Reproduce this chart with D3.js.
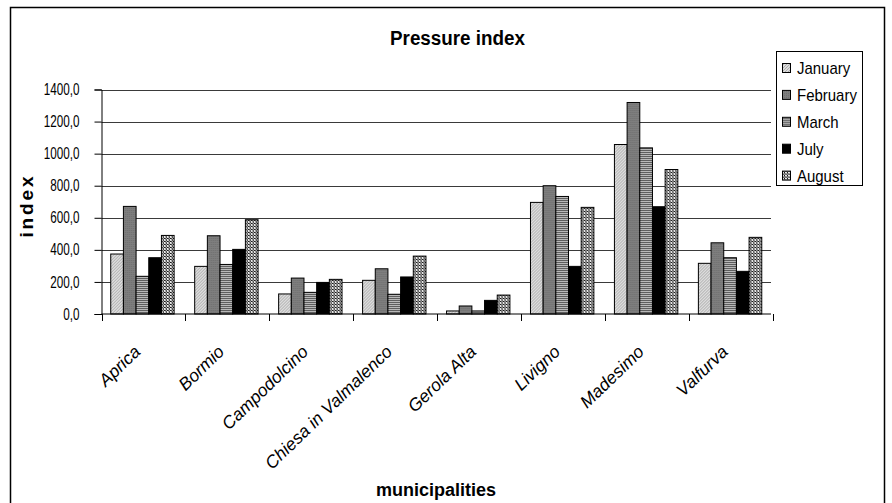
<!DOCTYPE html>
<html>
<head>
<meta charset="utf-8">
<script src="https://cdn.jsdelivr.net/npm/d3@7"></script>
<style>
  html, body { margin: 0; padding: 0; background: #fff; }
  svg { display: block; font-family: "Liberation Sans", Arial, sans-serif; }
</style>
</head>
<body>
<svg id="chart" width="892" height="503"></svg>
<script>
// ---- data ----
const categories = ["Aprica", "Bormio", "Campodolcino", "Chiesa in Valmalenco", "Gerola Alta", "Livigno", "Madesimo", "Valfurva"];
const months = ["January", "February", "March", "July", "August"];
const january  = [374, 297, 125, 210, 19, 696, 1057, 316];
const february = [671, 488, 224, 282, 50, 800, 1319, 444];
const march    = [235, 309, 135, 123, 19, 733, 1036, 351];
const july     = [351, 403, 197, 231, 85, 297, 669, 266];
const august   = [490, 588, 216, 361, 118, 665, 901, 478];
const yTicks = [0, 200, 400, 600, 800, 1000, 1200, 1400];
const title = "Pressure index";
const xTitle = "municipalities";
const yTitle = "index";

const seriesValues = [january, february, march, july, august];

// ---- setup ----
const svg = d3.select("#chart");
const plot = { left: 101.5, right: 771, top: 89.5, bottom: 314 };

// outer border
svg.append("rect").attr("x", 10.5).attr("y", 7.5).attr("width", 874).attr("height", 520)
  .attr("fill", "none").attr("stroke", "#000").attr("stroke-width", 1.5);

// patterns
const defs = svg.append("defs");
const pJan = defs.append("pattern").attr("id", "p0").attr("patternUnits", "userSpaceOnUse").attr("width", 3).attr("height", 3);
pJan.append("rect").attr("width", 3).attr("height", 3).attr("fill", "#dcdcdc");
pJan.append("path").attr("d", "M0,3 L3,0 M-1,1 L1,-1 M2,4 L4,2").attr("stroke", "#a0a0a0").attr("stroke-width", 0.8);

const pFeb = defs.append("pattern").attr("id", "p1").attr("patternUnits", "userSpaceOnUse").attr("width", 2).attr("height", 2);
pFeb.append("rect").attr("width", 2).attr("height", 2).attr("fill", "#7e7e7e");
pFeb.append("rect").attr("width", 1).attr("height", 1).attr("fill", "#6e6e6e");

const pMar = defs.append("pattern").attr("id", "p2").attr("patternUnits", "userSpaceOnUse").attr("width", 4).attr("height", 2);
pMar.append("rect").attr("width", 4).attr("height", 2).attr("fill", "#b8b8b8");
pMar.append("rect").attr("width", 4).attr("height", 1).attr("fill", "#5e5e5e");

const pJul = defs.append("pattern").attr("id", "p3").attr("patternUnits", "userSpaceOnUse").attr("width", 2).attr("height", 2);
pJul.append("rect").attr("width", 2).attr("height", 2).attr("fill", "#000");

const pAug = defs.append("pattern").attr("id", "p4").attr("patternUnits", "userSpaceOnUse").attr("width", 3).attr("height", 3);
pAug.append("rect").attr("width", 3).attr("height", 3).attr("fill", "#1a1a1a");
pAug.append("rect").attr("x", 0).attr("y", 0).attr("width", 1).attr("height", 1).attr("fill", "#fff");
pAug.append("rect").attr("x", 1).attr("y", 1).attr("width", 1).attr("height", 1).attr("fill", "#e0e0e0");
pAug.append("rect").attr("x", 2).attr("y", 2).attr("width", 1).attr("height", 1).attr("fill", "#fff");
pAug.append("rect").attr("x", 2).attr("y", 0).attr("width", 1).attr("height", 1).attr("fill", "#d0d0d0");
pAug.append("rect").attr("x", 0).attr("y", 2).attr("width", 1).attr("height", 1).attr("fill", "#d0d0d0");

const fills = months.map((m, i) => `url(#p${i})`);

// scales
const x0 = d3.scaleBand().domain(categories).range([plot.left, plot.right]).paddingInner(0.245).paddingOuter(0.11);
const x1 = d3.scaleBand().domain(months).range([0, x0.bandwidth()]).padding(0);
const y = d3.scaleLinear().domain([0, 1400]).range([plot.bottom, plot.top]);

// gridlines
svg.append("g").selectAll("line").data(yTicks.filter(d => d > 0)).join("line")
  .attr("x1", plot.left).attr("x2", plot.right)
  .attr("y1", d => Math.round(y(d)) + 0.5).attr("y2", d => Math.round(y(d)) + 0.5)
  .attr("stroke", "#3a3a3a").attr("stroke-width", 1);

// bars
const groups = svg.append("g").selectAll("g").data(categories).join("g")
  .attr("transform", d => `translate(${x0(d)},0)`);
groups.selectAll("rect").data((c, ci) => months.map((m, mi) => ({ m, mi, v: seriesValues[mi][ci] })))
  .join("rect")
  .attr("x", d => x1(d.m))
  .attr("y", d => y(d.v))
  .attr("width", x1.bandwidth())
  .attr("height", d => y(0) - y(d.v))
  .attr("fill", d => fills[d.mi])
  .attr("stroke", "#000").attr("stroke-width", 1);

// y axis
const fmt = d => d3.format(".1f")(d).replace(".", ",");
const yAxis = d3.axisLeft(y).tickValues(yTicks).tickSize(7).tickPadding(15).tickFormat(fmt);
const gy = svg.append("g").attr("transform", `translate(${plot.left},0)`).call(yAxis);
gy.select(".domain").attr("stroke", "#000");
gy.selectAll(".tick line").attr("stroke", "#000");
gy.selectAll(".tick text").attr("font-size", 16).attr("font-family", "Liberation Sans, Arial, sans-serif").attr("fill", "#000");

// x axis line and category boundary ticks
const gx = svg.append("g");
gx.append("line").attr("x1", plot.left).attr("x2", plot.right).attr("y1", plot.bottom).attr("y2", plot.bottom).attr("stroke", "#000");
gx.selectAll("line.tk").data(categories.concat(["__end"])).join("line").attr("class", "tk")
  .attr("x1", (d, i) => Math.round(plot.left + i * x0.step()) + 0.5)
  .attr("x2", (d, i) => Math.round(plot.left + i * x0.step()) + 0.5)
  .attr("y1", plot.bottom).attr("y2", plot.bottom + 7).attr("stroke", "#000");

// x tick labels
svg.append("g").selectAll("text").data(categories).join("text")
  .attr("text-anchor", "end")
  .attr("font-size", 17.5)
  .attr("font-style", "italic")
  .attr("transform", d => `translate(${x0(d) + x0.bandwidth() / 2 - 1},353) rotate(-44)`)
  .text(d => d);

function squeeze(sel, f) {
  sel.each(function () {
    const w = this.getComputedTextLength();
    d3.select(this).attr("textLength", w * f).attr("lengthAdjust", "spacingAndGlyphs");
  });
}
squeeze(gy.selectAll(".tick text"), 0.73);

// title
svg.append("text").attr("x", 457.5).attr("y", 45).attr("text-anchor", "middle")
  .attr("font-size", 20).attr("font-weight", "bold")
  .attr("textLength", 135).attr("lengthAdjust", "spacingAndGlyphs").text(title);

// axis titles
svg.append("text").attr("x", 436).attr("y", 496).attr("text-anchor", "middle")
  .attr("font-size", 18).attr("font-weight", "bold").text(xTitle);
svg.append("text").attr("transform", "translate(33,207) rotate(-90)").attr("text-anchor", "middle")
  .attr("font-size", 19).attr("font-weight", "bold")
  .attr("textLength", 61).attr("lengthAdjust", "spacing").text(yTitle);

// legend
const lg = svg.append("g");
lg.append("rect").attr("x", 776.5).attr("y", 51.5).attr("width", 86).attr("height", 134)
  .attr("fill", "#fff").attr("stroke", "#000").attr("stroke-width", 1);
const items = lg.selectAll("g").data(months).join("g")
  .attr("transform", (d, i) => `translate(0,${68 + i * 26.9})`);
items.append("rect").attr("x", 782.5).attr("y", -4.5).attr("width", 8).attr("height", 9)
  .attr("fill", (d, i) => fills[i]).attr("stroke", "#000").attr("stroke-width", 1);
const lt = items.append("text").attr("x", 797).attr("y", 6).attr("font-size", 17).text(d => d);
squeeze(lt, 0.88);
</script>
</body>
</html>
